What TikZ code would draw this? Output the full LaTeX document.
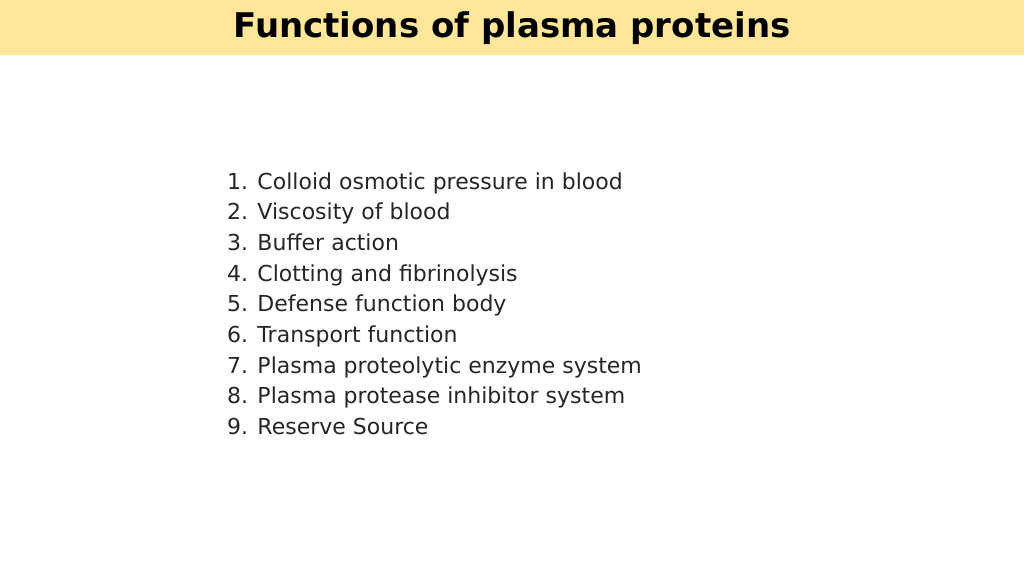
\documentclass[tikz,border=0pt]{standalone}
\usepackage{fontspec}
\setmainfont{DejaVu Sans}
\begin{document}
\begin{tikzpicture}[x=1pt,y=-1pt,
  item/.style={anchor=base west,inner sep=0pt,font=\fontsize{22}{26}\selectfont,text=black!85}]
\useasboundingbox (0,0) rectangle (1024,576);
\fill[white] (0,0) rectangle (1024,576);
\fill[fill={rgb,255:red,255;green,230;blue,153}] (0,0) rectangle (1024,55);
\node[font=\fontsize{34}{40}\selectfont\bfseries,inner sep=0pt] (title) at (512,28) {Functions of plasma proteins};
\foreach \t [count=\i from 0] in {1. Colloid osmotic pressure in blood,2. Viscosity of blood,3. Buffer action,4. Clotting and fibrinolysis,5. Defense function body,6. Transport function,7. Plasma proteolytic enzyme system,8. Plasma protease inhibitor system,9. Reserve Source}
  \node[item] (l\i) at (227,{189+30.7*\i}) {\t};
\end{tikzpicture}
\end{document}
